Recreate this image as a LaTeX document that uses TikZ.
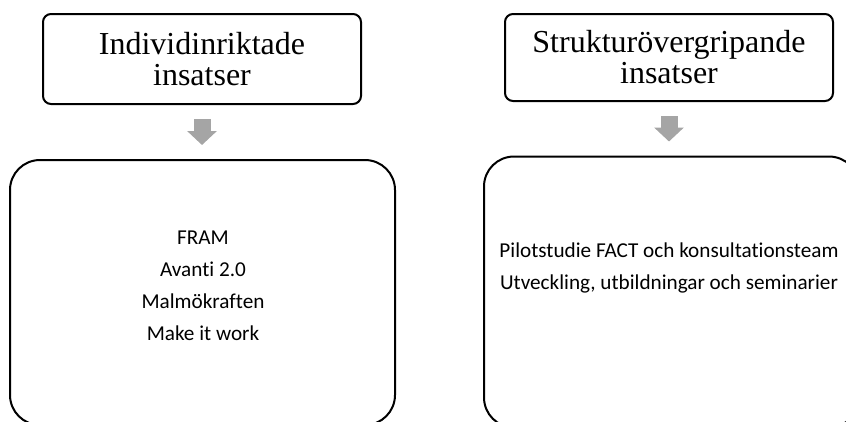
\documentclass[tikz,border=0pt]{standalone}
\usepackage{fontspec}
\setmainfont{Liberation Serif}
\newfontfamily\calibri[Ligatures=NoCommon]{Carlito}
\usetikzlibrary{arrows.meta}
\definecolor{arrowgray}{RGB}{165,165,165}
\begin{document}
\begin{tikzpicture}[x=1pt,y=-1pt,
	head/.style={draw,line width=2pt,rounded corners=8pt,align=center,inner sep=0pt,font=\fontsize{32}{31}\selectfont},
	list/.style={draw,line width=2pt,rounded corners=30pt,inner sep=0pt},
	items/.style={align=center,inner sep=0pt,font=\calibri\fontsize{21.2}{32}\selectfont},
	down/.style={draw=arrowgray,line width=17pt,-{Triangle[width=29pt,length=14pt,fill=arrowgray]}}]
	\useasboundingbox (0,0) rectangle (846,421) ;
	\node[head,minimum width=318pt,minimum height=90pt] (li) at (202,59) {Individinriktade\\insatser} ;
	\node[head,minimum width=328pt,minimum height=87pt] (ri) at (669,57.5) {Strukturövergripande\\insatser} ;
	\node[list,minimum width=385pt,minimum height=265pt] (lb) at (202.5,292.5) {} ;
	\node[list,minimum width=375pt,minimum height=271pt] (rb) at (671.5,292) {} ;
	\node[items] (litems) at (203,286) {FRAM\\Avanti 2.0\\Malmökraften\\Make it work} ;
	\node[items] (ritems) at (669,268) {Pilotstudie FACT och konsultationsteam\\Utveckling, utbildningar och seminarier} ;
	\draw[down] ([yshift=-14pt]li.south) -- ([yshift=14pt]li.south|-lb.north) ;
	\draw[down] ([yshift=-14pt]ri.south) -- ([yshift=14pt]ri.south|-rb.north) ;
\end{tikzpicture}
\end{document}
